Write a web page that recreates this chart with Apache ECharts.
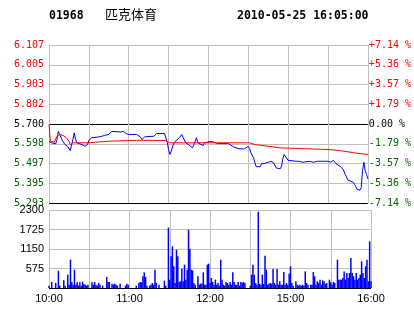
<!DOCTYPE html>
<html><head><meta charset="utf-8">
<script src="https://cdn.jsdelivr.net/npm/echarts@6/dist/echarts.min.js"></script>
<style>html,body{margin:0;padding:0;background:#fff}#c{width:414px;height:314px}</style>
</head><body><div id="c"></div>
<script>
const code = '01968';
const stockName = '匹克体育';
const stamp = '2010-05-25 16:05:00';
const timeLabels = ['10:00','','11:00','','12:00','','15:00','','16:00'];
const priceTicks = ['5.293','5.395','5.497','5.598','5.700','5.802','5.903','6.005','6.107'];
const pctTicks = ['-7.14 %','-5.36 %','-3.57 %','-1.79 %','0.00 %','+1.79 %','+3.57 %','+5.36 %','+7.14 %'];
const volTicks = ['','575','1150','1725','2300'];
const prevClose = 5.700;
// [minute since 10:00 (trading minutes), price]
const priceLine = [[0,5.610],[2,5.603],[5,5.598],[6,5.620],[7,5.662],[8,5.646],[9,5.637],[10,5.616],[12,5.594],[14,5.585],[16,5.563],[17,5.560],[18,5.620],[19,5.654],[20,5.620],[21,5.603],[22,5.603],[25,5.594],[27,5.585],[29,5.594],[30,5.616],[32,5.629],[36,5.632],[40,5.637],[42,5.642],[45,5.646],[47,5.662],[54,5.659],[56,5.662],[58,5.651],[60,5.646],[66,5.646],[69,5.632],[70,5.620],[72,5.634],[79,5.637],[81,5.651],[87,5.651],[89,5.606],[90,5.568],[91,5.543],[92,5.560],[94,5.603],[98,5.629],[100,5.646],[101,5.629],[103,5.603],[105,5.594],[108,5.577],[109,5.594],[111,5.629],[112,5.603],[116,5.589],[117,5.603],[122,5.611],[127,5.599],[135,5.599],[136,5.594],[139,5.582],[143,5.572],[147,5.572],[150,5.585],[151,5.574],[152,5.551],[154,5.526],[155,5.500],[156,5.480],[159,5.480],[160,5.496],[162,5.496],[165,5.503],[167,5.508],[169,5.500],[171,5.474],[174,5.469],[175,5.483],[176,5.521],[177,5.543],[178,5.551],[180,5.513],[181,5.508],[186,5.508],[187,5.500],[188,5.508],[191,5.503],[192,5.508],[196,5.508],[199,5.503],[202,5.508],[210,5.508],[212,5.503],[214,5.513],[216,5.496],[219,5.483],[221,5.469],[222,5.457],[223,5.440],[225,5.411],[226,5.406],[229,5.400],[230,5.389],[232,5.363],[234,5.359],[235,5.372],[236,5.460],[237,5.503],[238,5.460],[239,5.440],[240,5.418]];
const avgLine = [[0,5.700],[1,5.612],[4,5.606],[6,5.637],[8,5.646],[11,5.640],[13,5.629],[15,5.611],[16,5.594],[18,5.603],[30,5.603],[35,5.606],[44,5.611],[66,5.616],[88,5.615],[91,5.603],[127,5.603],[151,5.603],[155,5.594],[174,5.577],[195,5.572],[212,5.568],[222,5.560],[230,5.551],[240,5.543]];
const volume = [[0,69],[2,177],[5,150],[7,510],[8,69],[11,226],[12,69],[14,393],[15,98],[16,835],[17,177],[18,98],[19,540],[20,98],[21,167],[22,69],[23,167],[24,69],[25,187],[26,118],[27,98],[28,69],[29,98],[32,167],[33,98],[34,177],[35,98],[36,69],[37,150],[38,98],[40,69],[43,324],[44,177],[45,177],[47,128],[48,98],[49,128],[50,98],[51,69],[53,128],[57,69],[58,128],[59,98],[65,69],[67,147],[68,177],[69,167],[70,344],[71,462],[72,324],[73,69],[75,69],[76,98],[77,147],[78,98],[79,540],[80,147],[82,98],[86,216],[87,69],[89,1780],[90,246],[91,934],[92,1229],[93,640],[94,147],[95,1130],[96,934],[97,177],[98,197],[99,570],[100,197],[101,688],[102,246],[103,540],[104,1720],[105,1160],[106,540],[107,520],[108,147],[109,98],[111,344],[112,98],[113,128],[114,128],[115,462],[116,98],[117,98],[118,688],[119,718],[120,147],[121,295],[122,177],[123,98],[124,246],[125,98],[126,147],[127,69],[128,835],[129,246],[130,98],[131,69],[132,177],[133,147],[134,98],[135,177],[136,98],[137,462],[138,177],[139,98],[140,98],[141,177],[142,69],[143,177],[144,147],[145,177],[146,147],[150,69],[151,393],[152,688],[153,393],[154,147],[155,98],[156,2250],[157,128],[158,98],[159,393],[160,118],[161,953],[162,540],[163,98],[164,128],[165,147],[166,128],[167,560],[168,147],[169,98],[170,560],[171,98],[172,197],[173,98],[174,98],[175,472],[176,98],[177,147],[178,98],[179,423],[180,640],[181,147],[182,69],[184,197],[185,98],[186,69],[187,98],[188,69],[189,98],[190,69],[191,490],[192,147],[193,98],[195,98],[196,98],[197,472],[198,344],[199,98],[200,197],[201,147],[202,246],[203,98],[204,226],[205,197],[206,128],[207,147],[209,246],[210,167],[211,98],[212,177],[213,147],[215,835],[216,246],[217,246],[218,246],[219,295],[220,490],[221,246],[222,442],[223,295],[224,442],[225,885],[226,442],[227,344],[228,246],[229,442],[230,246],[231,295],[232,393],[233,786],[234,442],[235,295],[236,640],[237,835],[238,197],[239,1376],[240,197]];

const GREY = '#c0c0c0', GREEN = '#006400', RED = '#ff0000';
const MONO = '"DejaVu Sans Mono", monospace';
const SANS = '"Liberation Sans", Arial, sans-serif';
const idxColor = (i) => i < 4 ? GREEN : (i === 4 ? '#000' : RED);
const pMin = 5.293, pMax = 6.107, pStep = 0.10175;
const pIdx = v => Math.round((v - pMin) / pStep);

const chart = echarts.init(document.getElementById('c'), null, {renderer: 'canvas'});
chart.setOption({
  animation: false,
  title: [
    {text: code, left: 49, top: 10, padding: 0, textStyle: {fontFamily: MONO, fontWeight: 'bold', fontSize: 11.5, color: '#000'}},
    {text: stockName, left: 105, top: 8, padding: 0, textStyle: {fontFamily: '"Noto Sans CJK SC", sans-serif', fontWeight: 'normal', fontSize: 13, color: '#000'}},
    {text: stamp, left: 237, top: 10, padding: 0, textStyle: {fontFamily: MONO, fontWeight: 'bold', fontSize: 11.5, color: '#000'}}
  ],
  grid: [
    {left: 49, right: 43, top: 45, height: 158},
    {left: 49, right: 43, top: 210, height: 78}
  ],
  xAxis: [0, 1].map(g => ({
    type: 'value', gridIndex: g, min: 0, max: 240, interval: 30,
    axisLine: {show: false}, axisTick: {show: false},
    splitLine: {show: true, lineStyle: {color: GREY, width: 1}},
    axisLabel: g === 0 ? {show: false} : {
      show: true, margin: 5, fontFamily: SANS, fontSize: 11, color: '#000',
      formatter: v => timeLabels[Math.round(v / 30)] || ''
    }
  })),
  yAxis: [
    {type: 'value', gridIndex: 0, position: 'left', min: pMin, max: pMax, interval: pStep,
      axisLine: {show: false}, axisTick: {show: false},
      splitLine: {show: true, lineStyle: {width: 1, color: ['#000', GREY, GREY, GREY, '#000', GREY, GREY, GREY, GREY]}},
      axisLabel: {margin: 5, fontFamily: MONO, fontSize: 10, padding: [2, 0, 0, 0],
        formatter: v => priceTicks[pIdx(v)] || '',
        color: v => idxColor(pIdx(v))}},
    {type: 'value', gridIndex: 0, position: 'right', min: -7.14, max: 7.14, interval: 1.785,
      axisLine: {show: false}, axisTick: {show: false}, splitLine: {show: false},
      axisLabel: {margin: 1, fontFamily: MONO, fontSize: 10, padding: [2, 0, 0, 0],
        formatter: v => pctTicks[Math.round(v / 1.785) + 4] || '',
        color: v => idxColor(Math.round(v / 1.785) + 4)}},
    {type: 'value', gridIndex: 1, position: 'left', min: 0, max: 2300, interval: 575,
      axisLine: {show: false}, axisTick: {show: false},
      splitLine: {show: true, lineStyle: {width: 1, color: ['#000', GREY, GREY, GREY, GREY]}},
      axisLabel: {margin: 5, fontFamily: SANS, fontSize: 11, color: '#000', padding: [4, 0, 0, 0],
        formatter: v => volTicks[Math.round(v / 575)] || ''}}
  ],
  series: [
    {type: 'line', xAxisIndex: 0, yAxisIndex: 0, data: priceLine, symbol: 'none', z: 3,
      lineStyle: {color: '#0000ff', width: 1}, itemStyle: {color: '#0000ff'}},
    {type: 'line', xAxisIndex: 0, yAxisIndex: 0, data: avgLine, symbol: 'none', z: 4,
      lineStyle: {color: RED, width: 1}, itemStyle: {color: RED}},
    {type: 'bar', xAxisIndex: 1, yAxisIndex: 2, data: volume, barWidth: 1.5, z: 3,
      itemStyle: {color: '#0000ff'}}
  ]
});
</script></body></html>
